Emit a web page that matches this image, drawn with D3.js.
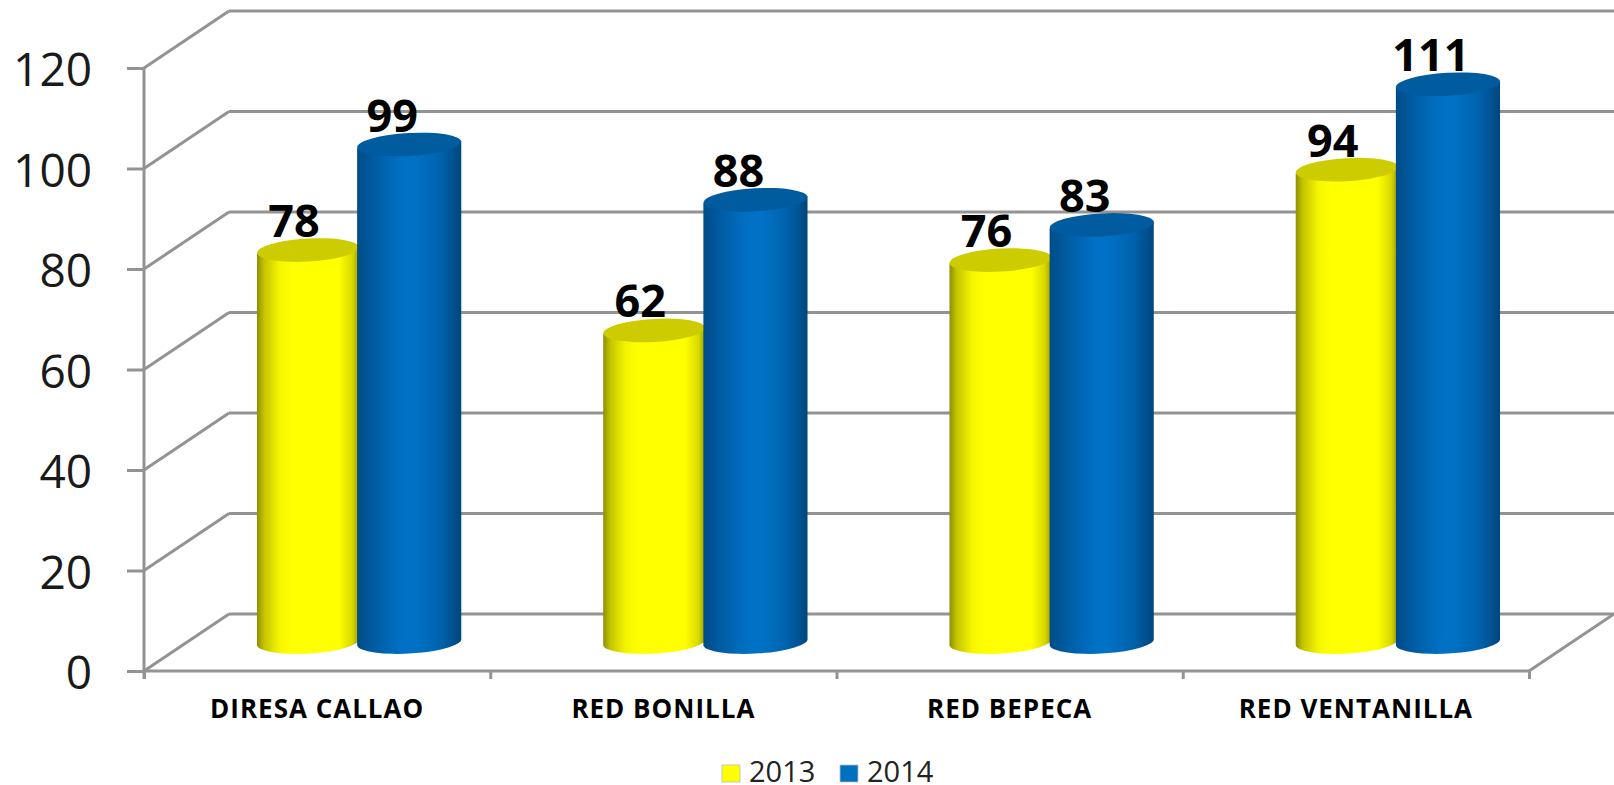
<!DOCTYPE html>
<html>
<head>
<meta charset="utf-8">
<script src="https://cdn.jsdelivr.net/npm/d3@7"></script>
<style>
  html, body { margin: 0; background: #fff; overflow: hidden; }
  text { font-family: "Open Sans", sans-serif; fill: #000; }
  .axisY text { font-size: 46px; fill: #1a1a1a; }
  .catLabel { font-size: 26px; font-weight: 700; letter-spacing: 1px; }
  .valueLabel { font-size: 45px; font-weight: 700; }
  .legendLabel { font-size: 29px; fill: #222; }
  .grid { stroke: #939393; stroke-width: 3; fill: none; }
</style>
</head>
<body>
<div id="chart"></div>
<script>
// --- Data
const categories = ['DIRESA CALLAO', 'RED BONILLA', 'RED BEPECA', 'RED VENTANILLA'];
const seriesNames = ['2013', '2014'];
const values2013 = [78, 62, 76, 94];
const values2014 = [99, 88, 83, 111];
const yTicks = [0, 20, 40, 60, 80, 100, 120];

const seriesValues = [values2013, values2014];
const capColors = ['#cccc00', '#005b9f'];
const swatchColors = ['#ffff00', '#0070c0'];

// --- Layout
const width = 1614, height = 785;
const plot = { left: 144, right: 1529, top: 68, bottom: 671 };
const depth = { x: 85, y: -57 };
const barShift = { x: 42, y: -29 };
const capRy = 11.5, tilt = -3.2, lean = 3.5;
const blueOverlap = 2;
const labelShift = [-14, -17];

const svg = d3.select('#chart').append('svg')
  .attr('width', width)
  .attr('height', height)
  .style('display', 'block');

const yScale = d3.scaleLinear().domain([0, 120]).range([plot.bottom, plot.top]);
const x0 = d3.scaleBand().domain(categories).range([plot.left, plot.right])
  .paddingInner(0.41).paddingOuter(0.205);
const x1 = d3.scaleBand().domain(seriesNames).range([0, x0.bandwidth()]);
const tickX = d3.scaleLinear().domain([0, categories.length]).range([plot.left, plot.right]);

// the 2014 cylinder sits a little over the 2013 one
const barLeft = d => x0(d.cat) + x1(d.name) + barShift.x - blueOverlap * d.s;
const barWidth = d => x1.bandwidth() + blueOverlap * d.s;

// --- Gradients
const defs = svg.append('defs');
const gradients = [
  [[0, '#8e8e00'], [0.07, '#c4c400'], [0.22, '#f5f500'], [0.34, '#ffff00'], [0.8, '#ffff00'], [0.93, '#d9d900'], [1, '#9c9c00']],
  [[0, '#004c87'], [0.14, '#005a9f'], [0.42, '#0070c4'], [0.55, '#0072c6'], [0.8, '#0062ad'], [1, '#00467c']]
];
gradients.forEach((stops, i) => {
  defs.append('linearGradient')
    .attr('id', 'body' + i)
    .selectAll('stop')
    .data(stops)
    .join('stop')
    .attr('offset', d => d[0])
    .attr('stop-color', d => d[1]);
});

// --- Walls and gridlines
const grid = svg.append('g').attr('class', 'walls');
grid.selectAll('.backLine')
  .data(yTicks)
  .join('line')
  .attr('class', 'grid backLine')
  .attr('x1', plot.left + depth.x)
  .attr('x2', plot.right + depth.x)
  .attr('y1', d => yScale(d) + depth.y)
  .attr('y2', d => yScale(d) + depth.y);
grid.selectAll('.sideLine')
  .data(yTicks)
  .join('line')
  .attr('class', 'grid sideLine')
  .attr('x1', plot.left)
  .attr('x2', plot.left + depth.x)
  .attr('y1', d => yScale(d))
  .attr('y2', d => yScale(d) + depth.y);
grid.append('line')
  .attr('class', 'grid')
  .attr('x1', plot.right)
  .attr('x2', plot.right + depth.x)
  .attr('y1', yScale(0))
  .attr('y2', yScale(0) + depth.y);

// --- Axes
const axisY = svg.append('g')
  .attr('class', 'axisY')
  .attr('transform', `translate(${plot.left}, 0)`)
  .call(d3.axisLeft(yScale).tickValues(yTicks).tickSize(17).tickPadding(35));
axisY.selectAll('text').attr('dy', '0.39em');

const axisX = svg.append('g')
  .attr('class', 'axisX')
  .attr('transform', `translate(0, ${plot.bottom})`)
  .call(d3.axisBottom(tickX).ticks(categories.length).tickSize(8).tickFormat(''));

svg.selectAll('.axisY path, .axisY line, .axisX path, .axisX line')
  .attr('stroke', '#939393')
  .attr('stroke-width', 3);
svg.selectAll('.axisY path, .axisX path').attr('d', null);
svg.append('line').attr('class', 'grid')
  .attr('x1', plot.left).attr('x2', plot.left)
  .attr('y1', plot.top).attr('y2', plot.bottom + 8);
svg.append('line').attr('class', 'grid')
  .attr('x1', plot.left).attr('x2', plot.right)
  .attr('y1', plot.bottom).attr('y2', plot.bottom);

svg.append('g')
  .selectAll('text')
  .data(categories)
  .join('text')
  .attr('class', 'catLabel')
  .attr('x', d => x0(d) + x0.bandwidth() / 2)
  .attr('y', 718)
  .attr('text-anchor', 'middle')
  .text(d => d);

// --- Cylinders
const rows = [];
seriesNames.forEach((name, s) => {
  categories.forEach((cat, c) => {
    rows.push({ s, name, cat, value: seriesValues[s][c] });
  });
});

function cylinderBody(d) {
  const left = barLeft(d);
  const right = left + barWidth(d);
  const rx = barWidth(d) / 2;
  const top = yScale(d.value) + barShift.y;
  const base = yScale(0) + barShift.y;
  return `M${left},${top + lean}L${left},${base + lean}`
    + `A${rx},${capRy} ${tilt} 0 0 ${right},${base - lean}`
    + `L${right},${top - lean}Z`;
}

const bars = svg.append('g').attr('class', 'cylinders')
  .selectAll('g')
  .data(rows)
  .join('g');

bars.append('path')
  .attr('d', cylinderBody)
  .attr('fill', d => `url(#body${d.s})`);

bars.append('ellipse')
  .attr('rx', d => barWidth(d) / 2)
  .attr('ry', capRy)
  .attr('transform', d => {
    const cx = barLeft(d) + barWidth(d) / 2;
    const cy = yScale(d.value) + barShift.y;
    return `translate(${cx},${cy}) rotate(${tilt})`;
  })
  .attr('fill', d => capColors[d.s]);

// --- Value labels
svg.append('g')
  .selectAll('text')
  .data(rows)
  .join('text')
  .attr('class', 'valueLabel')
  .attr('x', d => barLeft(d) + barWidth(d) / 2 + labelShift[d.s])
  .attr('y', d => yScale(d.value) + barShift.y - 13)
  .attr('text-anchor', 'middle')
  .text(d => d.value);

// --- Legend
const legendX = [722, 840];
const legend = svg.append('g')
  .selectAll('g')
  .data(seriesNames)
  .join('g')
  .attr('transform', (d, i) => `translate(${legendX[i]}, 765)`);
legend.append('rect')
  .attr('width', 18)
  .attr('height', 17)
  .attr('fill', (d, i) => swatchColors[i])
  .attr('stroke', '#bbb')
  .attr('stroke-width', 0.8);
legend.append('text')
  .attr('class', 'legendLabel')
  .attr('x', 27)
  .attr('y', 17)
  .text(d => d);
</script>
</body>
</html>
